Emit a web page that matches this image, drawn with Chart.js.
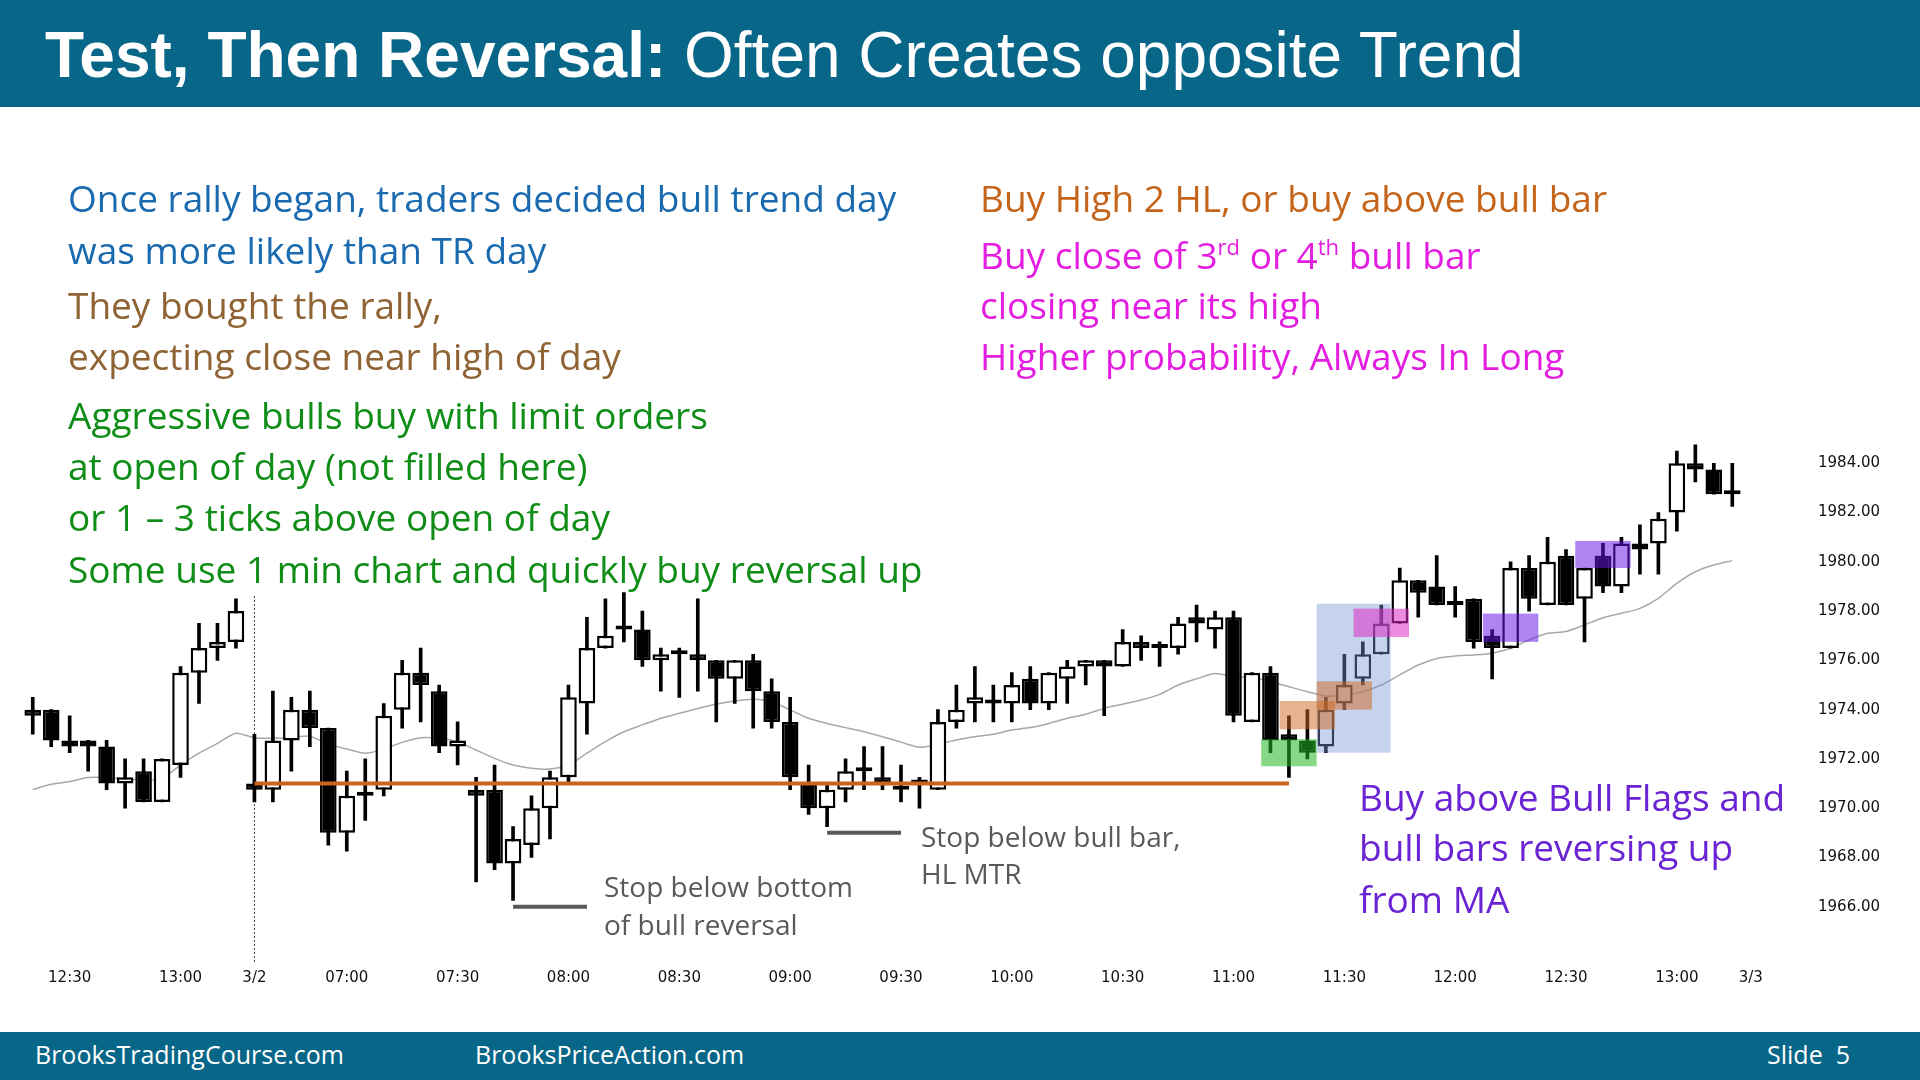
<!DOCTYPE html>
<html>
<head>
<meta charset="utf-8">
<script src="https://cdn.jsdelivr.net/npm/chart.js@4.4.1/dist/chart.umd.min.js"></script>
<style>
html, body { margin: 0; padding: 0; background: #fff; }
#page { position: relative; width: 1920px; height: 1080px; overflow: hidden; background: #fff; font-family: "Open Sans", sans-serif; }
#chart { position: absolute; left: 0; top: 0; }
.band { position: absolute; left: 0; width: 1920px; background: #086688; z-index: 2; }
.t { position: absolute; white-space: nowrap; z-index: 3; }
.big { font-size: 37px; line-height: 50px; }
.small { font-size: 28px; line-height: 38px; color: #595959; }
.foot { font-size: 25px; line-height: 34px; color: #fff; top: 1037px; }
sup { font-size: 22px; line-height: 0; vertical-align: 14px; }
.blue { color: #1a6ab0; }
.brown { color: #8f6333; }
.green { color: #0f8d17; }
.orange { color: #c5651c; }
.magenta { color: #e31ee0; }
.purple { color: #6a24d4; }
</style>
</head>
<body>
<div id="page">
  <canvas id="chart" width="1920" height="1080"></canvas>

  <div class="band" style="top:0;height:107px;"></div>
  <div class="t" style="left:45px;top:15px;font-family:'Liberation Sans',Arial,sans-serif;font-size:64px;line-height:80px;color:#fff;">
    <b>Test, Then Reversal:</b> Often Creates opposite Trend
  </div>

  <div class="t big blue" style="left:68px;top:173px;">Once rally began, traders decided bull trend day</div>
  <div class="t big blue" style="left:68px;top:225px;">was more likely than TR day</div>
  <div class="t big brown" style="left:68px;top:280px;">They bought the rally,</div>
  <div class="t big brown" style="left:68px;top:331px;">expecting close near high of day</div>
  <div class="t big green" style="left:68px;top:390px;">Aggressive bulls buy with limit orders</div>
  <div class="t big green" style="left:68px;top:441px;">at open of day (not filled here)</div>
  <div class="t big green" style="left:68px;top:492px;">or 1 – 3 ticks above open of day</div>
  <div class="t big green" style="left:68px;top:544px;">Some use 1 min chart and quickly buy reversal up</div>

  <div class="t big orange" style="left:980px;top:173px;">Buy High 2 HL, or buy above bull bar</div>
  <div class="t big magenta" style="left:980px;top:230px;">Buy close of 3<sup>rd</sup> or 4<sup>th</sup> bull bar</div>
  <div class="t big magenta" style="left:980px;top:280px;">closing near its high</div>
  <div class="t big magenta" style="left:980px;top:331px;">Higher probability, Always In Long</div>

  <div class="t big purple" style="left:1359px;top:772px;">Buy above Bull Flags and</div>
  <div class="t big purple" style="left:1359px;top:822px;">bull bars reversing up</div>
  <div class="t big purple" style="left:1359px;top:874px;">from MA</div>

  <div class="t small" style="left:604px;top:867px;">Stop below bottom</div>
  <div class="t small" style="left:604px;top:905px;">of bull reversal</div>
  <div class="t small" style="left:921px;top:817px;">Stop below bull bar,</div>
  <div class="t small" style="left:921px;top:854px;">HL MTR</div>

  <div class="band" style="top:1032px;height:48px;"></div>
  <div class="t foot" style="left:35px;">BrooksTradingCourse.com</div>
  <div class="t foot" style="left:475px;">BrooksPriceAction.com</div>
  <div class="t foot" style="left:1767px;">Slide&nbsp; 5</div>
</div>

<script>
// bar times (5 min); "3/2" is the first bar of the new session, "3/3" an empty slot
const timeLabels = [
  '12:20','12:25','12:30','12:35','12:40','12:45','12:50','12:55','13:00','13:05','13:10','13:15',
  '3/2','06:40','06:45','06:50','06:55','07:00','07:05','07:10','07:15','07:20','07:25','07:30',
  '07:35','07:40','07:45','07:50','07:55','08:00','08:05','08:10','08:15','08:20','08:25','08:30',
  '08:35','08:40','08:45','08:50','08:55','09:00','09:05','09:10','09:15','09:20','09:25','09:30',
  '09:35','09:40','09:45','09:50','09:55','10:00','10:05','10:10','10:15','10:20','10:25','10:30',
  '10:35','10:40','10:45','10:50','10:55','11:00','11:05','11:10','11:15','11:20','11:25','11:30',
  '11:35','11:40','11:45','11:50','11:55','12:00','12:05','12:10','12:15','12:20','12:25','12:30',
  '12:35','12:40','12:45','12:50','12:55','13:00','13:05','13:10','13:15','3/3'
];

const opens = [
  1974.0, 1974.0, 1972.75, 1972.75, 1972.5, 1971.0, 1971.5, 1970.25, 1971.75, 1975.5, 1976.5, 1976.75,
  1971.0, 1970.75, 1972.75, 1974.0, 1973.25, 1969.0, 1970.5, 1970.75, 1974.0, 1975.5, 1974.75, 1972.5,
  1970.75, 1970.75, 1967.75, 1968.5, 1970.0, 1971.25, 1974.25, 1976.5, 1977.25, 1977.25, 1976.0, 1976.25,
  1976.25, 1976.0, 1975.25, 1976.0, 1974.75, 1973.5, 1971.0, 1970.0, 1970.75, 1971.5, 1971.25, 1970.75,
  1971.0, 1970.75, 1973.5, 1974.25, 1974.25, 1974.25, 1975.25, 1974.25, 1975.25, 1975.75, 1976.0, 1975.75,
  1976.75, 1976.5, 1976.5, 1977.75, 1977.25, 1977.75, 1973.5, 1975.5, 1973.0, 1972.75, 1972.5, 1974.25,
  1975.25, 1976.25, 1977.5, 1979.25, 1979.0, 1978.25, 1978.5, 1977.0, 1976.5, 1979.75, 1978.25, 1980.25,
  1978.5, 1980.25, 1979.0, 1980.75, 1980.75, 1982.0, 1984.0, 1983.75, 1982.75, null
];
const highs = [
  1974.5, 1974.0, 1973.75, 1972.75, 1972.75, 1972.0, 1972.0, 1972.0, 1975.75, 1977.5, 1977.5, 1978.5,
  1973.0, 1974.75, 1974.5, 1974.75, 1973.25, 1971.5, 1972.0, 1974.25, 1976.0, 1976.5, 1975.0, 1973.5,
  1971.25, 1971.75, 1969.25, 1970.5, 1971.5, 1975.0, 1977.75, 1978.5, 1978.75, 1978.0, 1976.5, 1976.5,
  1978.5, 1976.0, 1976.0, 1976.25, 1975.25, 1974.5, 1971.75, 1971.0, 1972.0, 1972.5, 1972.5, 1971.75,
  1971.25, 1974.0, 1975.0, 1975.75, 1975.0, 1975.5, 1975.75, 1975.5, 1976.0, 1976.0, 1976.0, 1977.25,
  1977.0, 1976.75, 1977.75, 1978.25, 1978.0, 1978.0, 1975.5, 1975.75, 1973.75, 1974.0, 1974.5, 1976.25,
  1976.75, 1978.25, 1979.75, 1979.25, 1980.25, 1979.0, 1978.5, 1977.25, 1980.0, 1980.25, 1981.0, 1980.5,
  1979.75, 1980.75, 1981.0, 1981.5, 1982.0, 1984.5, 1984.75, 1984.0, 1984.0, null
];
const lows = [
  1973.0, 1972.5, 1972.25, 1971.5, 1970.75, 1970.0, 1970.25, 1970.25, 1971.25, 1974.25, 1976.0, 1976.5,
  1970.25, 1970.25, 1971.5, 1972.5, 1968.5, 1968.25, 1969.5, 1970.5, 1973.25, 1973.5, 1972.25, 1971.75,
  1967.0, 1967.5, 1966.25, 1968.0, 1968.75, 1971.0, 1973.0, 1976.5, 1976.75, 1975.75, 1974.75, 1974.5,
  1974.75, 1973.5, 1974.25, 1973.25, 1973.25, 1970.75, 1969.75, 1969.25, 1970.25, 1970.75, 1970.75, 1970.25,
  1970.0, 1970.75, 1973.25, 1973.5, 1973.5, 1973.5, 1974.0, 1974.0, 1974.25, 1975.0, 1973.75, 1975.75,
  1976.0, 1975.75, 1976.25, 1976.75, 1976.5, 1973.5, 1973.5, 1972.25, 1971.25, 1972.0, 1972.25, 1974.0,
  1975.0, 1976.25, 1977.5, 1977.75, 1978.25, 1977.75, 1976.5, 1975.25, 1976.5, 1978.0, 1978.25, 1978.25,
  1976.75, 1978.75, 1978.75, 1979.5, 1979.5, 1981.25, 1983.25, 1982.75, 1982.25, null
];
const closes = [
  1973.75, 1972.75, 1972.5, 1972.5, 1971.0, 1971.25, 1970.25, 1972.0, 1975.5, 1976.5, 1976.75, 1978.0,
  1970.75, 1972.75, 1974.0, 1973.25, 1969.0, 1970.5, 1970.5, 1973.75, 1975.5, 1975.0, 1972.5, 1972.75,
  1970.5, 1967.75, 1968.75, 1970.0, 1971.25, 1974.5, 1976.5, 1977.0, 1977.25, 1976.0, 1976.25, 1976.25,
  1976.0, 1975.25, 1976.0, 1974.75, 1973.5, 1971.25, 1970.0, 1970.75, 1971.5, 1971.5, 1971.0, 1970.75,
  1971.0, 1973.5, 1974.0, 1974.5, 1974.25, 1975.0, 1974.25, 1975.5, 1975.75, 1976.0, 1975.75, 1976.75,
  1976.5, 1976.5, 1977.5, 1977.5, 1977.75, 1973.75, 1975.5, 1972.75, 1972.75, 1972.25, 1974.0, 1975.0,
  1976.25, 1977.5, 1979.25, 1978.75, 1978.25, 1978.25, 1976.75, 1976.5, 1979.75, 1978.5, 1980.0, 1978.25,
  1979.75, 1979.0, 1980.75, 1980.5, 1981.75, 1984.0, 1983.75, 1982.75, 1982.75, null
];
// moving average
const movingAvg = [
  1970.76, 1970.97, 1971.08, 1971.24, 1971.24, 1971.18, 1971.14, 1971.21, 1971.75, 1972.23, 1972.63, 1973.04,
  1972.86, 1972.84, 1972.86, 1972.92, 1972.59, 1972.40, 1972.23, 1972.40, 1972.67, 1972.86, 1972.84, 1972.70,
  1972.36, 1972.02, 1971.75, 1971.62, 1971.59, 1971.75, 1972.23, 1972.70, 1973.10, 1973.38, 1973.65, 1973.85,
  1974.05, 1974.22, 1974.35, 1974.42, 1974.32, 1973.99, 1973.65, 1973.44, 1973.27, 1973.10, 1972.90, 1972.68,
  1972.47, 1972.59, 1972.77, 1972.90, 1973.00, 1973.17, 1973.27, 1973.44, 1973.65, 1973.81, 1974.05, 1974.22,
  1974.39, 1974.62, 1975.00, 1975.25, 1975.47, 1975.34, 1975.31, 1975.13, 1974.93, 1974.73, 1974.55, 1974.59,
  1974.73, 1975.00, 1975.41, 1975.81, 1976.08, 1976.18, 1976.22, 1976.29, 1976.49, 1976.83, 1977.10, 1977.17,
  1977.44, 1977.73, 1977.91, 1978.11, 1978.52, 1979.13, 1979.60, 1979.87, 1980.05, null
];
const priceTicks = [1966, 1968, 1970, 1972, 1974, 1976, 1978, 1980, 1982, 1984];

// horizontal levels: [price, first bar, last bar, colour, width]
const levelLines = [
  [1971.0, 12, 68, '#c8651f', 4],
  [1966.0, 26, 30, '#595959', 4],
  [1969.0, 43, 47, '#595959', 4]
];
// highlight boxes: [first bar, last bar, low, high, colour]
const boxes = [
  [70, 73, 1972.25, 1978.3, 'rgba(120,150,215,0.42)'],
  [67, 69, 1971.7, 1972.8, 'rgba(37,183,37,0.55)'],
  [68, 70, 1973.2, 1974.35, 'rgba(208,104,30,0.5)'],
  [70, 72, 1974.0, 1975.15, 'rgba(208,104,30,0.5)'],
  [72, 74, 1976.95, 1978.1, 'rgba(218,45,200,0.55)'],
  [79, 81, 1976.75, 1977.9, 'rgba(100,20,230,0.52)'],
  [84, 86, 1979.75, 1980.85, 'rgba(100,20,230,0.52)']
];
const sessionStart = 12;

const bodies = opens.map((o, i) => o == null ? null : [o, closes[i]]);
const wicks = lows.map((l, i) => l == null ? null : [l, highs[i]]);
const bodyColors = opens.map((o, i) => (o != null && closes[i] > o) ? '#ffffff' : '#000000');

const lineSets = levelLines.map(([price, from, to, color, w]) => ({
  type: 'line',
  data: timeLabels.map((_, i) => (i >= from && i <= to) ? price : null),
  borderColor: color,
  borderWidth: w,
  pointRadius: 0,
  spanGaps: false,
  order: 0
}));

const boxPlugin = {
  id: 'boxes',
  beforeDatasetsDraw(chart) {
    // dotted session divider
    const x = chart.scales.x.getPixelForValue(sessionStart);
    const ctx = chart.ctx;
    ctx.save();
    ctx.strokeStyle = '#444';
    ctx.lineWidth = 1;
    ctx.setLineDash([2, 2]);
    ctx.beginPath();
    ctx.moveTo(x, 596);
    ctx.lineTo(x, 963);
    ctx.stroke();
    ctx.restore();
  },
  afterDatasetsDraw(chart) {
    const xs = chart.scales.x, ys = chart.scales.y, ctx = chart.ctx;
    const half = (xs.getPixelForValue(1) - xs.getPixelForValue(0)) / 2;
    ctx.save();
    boxes.forEach(([a, b, lo, hi, color]) => {
      const x0 = xs.getPixelForValue(a) - half;
      const x1 = xs.getPixelForValue(b) + half;
      const y0 = ys.getPixelForValue(hi);
      const y1 = ys.getPixelForValue(lo);
      ctx.fillStyle = color;
      ctx.fillRect(x0, y0, x1 - x0, y1 - y0);
    });
    ctx.restore();
  }
};

const ctx = document.getElementById('chart').getContext('2d');
new Chart(ctx, {
  type: 'bar',
  data: {
    labels: timeLabels,
    datasets: [
      ...lineSets,
      {
        data: bodies,
        backgroundColor: bodyColors,
        borderColor: '#000',
        borderWidth: 2.5,
        borderSkipped: false,
        barPercentage: 0.9,
        categoryPercentage: 1.0,
        minBarLength: 4,
        grouped: false,
        order: 1
      },
      {
        data: wicks,
        backgroundColor: '#000',
        barThickness: 3,
        grouped: false,
        order: 2
      },
      {
        type: 'line',
        data: movingAvg,
        borderColor: '#a8a8a8',
        borderWidth: 1.5,
        pointRadius: 0,
        tension: 0.25,
        order: 3
      }
    ]
  },
  options: {
    responsive: false,
    animation: false,
    events: [],
    layout: { padding: { left: 23.5, top: 426.4, right: 0, bottom: 0 } },
    plugins: { legend: { display: false }, tooltip: { enabled: false } },
    scales: {
      x: {
        grid: { display: false, drawTicks: false },
        border: { display: false },
        afterFit(s) { s.height = 136.4; },
        ticks: {
          autoSkip: false,
          maxRotation: 0,
          padding: 26,
          color: '#111',
          font: { family: 'DejaVu Sans', size: 15 },
          callback(v, i) {
            const l = timeLabels[i];
            return (l.endsWith(':00') || l.endsWith(':30') || l.includes('/')) ? l : '';
          }
        }
      },
      y: {
        position: 'right',
        min: 1964.5,
        max: 1985.5,
        grid: { display: false, drawTicks: false },
        border: { display: false },
        afterFit(s) { s.width = 160; },
        afterBuildTicks(s) { s.ticks = priceTicks.map(v => ({ value: v })); },
        ticks: {
          padding: 58,
          color: '#111',
          font: { family: 'DejaVu Sans', size: 15 },
          callback: v => v.toFixed(2)
        }
      }
    }
  },
  plugins: [boxPlugin]
});
</script>
</body>
</html>
